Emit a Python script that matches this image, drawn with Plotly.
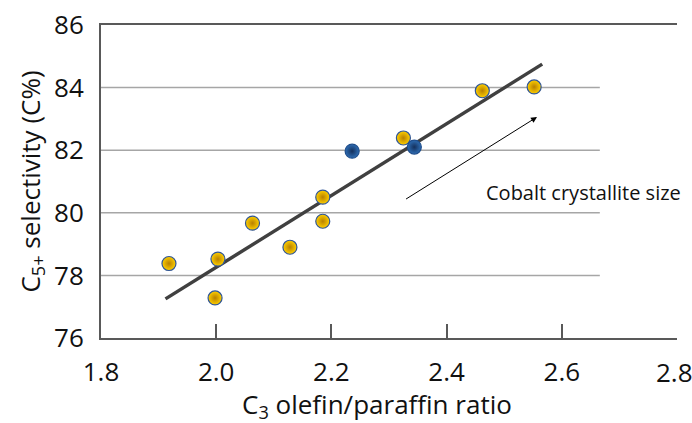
import plotly.graph_objects as go

# Data
ratio_gold = [1.918, 1.998, 2.003, 2.063, 2.128, 2.185, 2.185, 2.325, 2.462, 2.552]
sel_gold = [78.38, 77.28, 78.52, 79.67, 78.90, 79.73, 80.50, 82.39, 83.90, 84.02]
ratio_blue = [2.236, 2.344]
sel_blue = [81.97, 82.10]
trend_x = [1.912, 2.566]
trend_y = [77.25, 84.75]
x_ticks = [1.8, 2.0, 2.2, 2.4, 2.6]
x_ticklabels = ["1.8", "2.0", "2.2", "2.4", "2.6"]
y_ticks = [76, 78, 80, 82, 84, 86]
grid_y = [78, 80, 82, 84]

FONT = "Open Sans"
TXT = "#111111"
fig = go.Figure()

fig.add_trace(go.Scatter(
    x=trend_x, y=trend_y, mode="lines",
    line=dict(color="#404040", width=3.5), hoverinfo="skip", showlegend=False))

fig.add_trace(go.Scatter(
    x=ratio_gold, y=sel_gold, mode="markers", showlegend=False,
    marker=dict(size=14, color="#FFD000",
                gradient=dict(type="radial", color="#B88000"),
                line=dict(color="#2F5597", width=1.2))))

fig.add_trace(go.Scatter(
    x=ratio_blue, y=sel_blue, mode="markers", showlegend=False,
    marker=dict(size=14, color="#2E6DB4",
                gradient=dict(type="radial", color="#14305C"),
                line=dict(color="#1F4E8C", width=1.2))))

shapes = []
for g in grid_y:
    shapes.append(dict(type="line", xref="x", yref="y", x0=1.8, x1=2.666, y0=g, y1=g,
                       line=dict(color="#A6A6A6", width=1.5), layer="below"))

annotations = [
    dict(x=2.557, y=83.06, ax=2.327, ay=80.41, xref="x", yref="y", axref="x", ayref="y",
         showarrow=True, arrowhead=2, arrowsize=1.2, arrowwidth=1, arrowcolor="#000000", text=""),
    dict(x=2.637, y=80.66, xref="x", yref="y", text="Cobalt crystallite size", showarrow=False,
         xanchor="center", yanchor="middle", font=dict(family=FONT, size=20, color=TXT)),
    dict(x=2.795, y=0, xref="x", yref="paper", text="2.8", showarrow=False,
         xanchor="center", yanchor="top", yshift=-14, font=dict(family=FONT, size=26, color=TXT)),
    dict(x=2.28, y=0, xref="x", yref="paper", text="C<sub>3</sub> olefin/paraffin ratio",
         showarrow=False, xanchor="center", yanchor="middle", yshift=-67,
         font=dict(family=FONT, size=26, color=TXT)),
]

fig.update_layout(
    width=692, height=423,
    margin=dict(l=101, r=15, t=25, b=85),
    paper_bgcolor="white", plot_bgcolor="white",
    font=dict(family=FONT, color=TXT),
    shapes=shapes, annotations=annotations,
    xaxis=dict(range=[1.8, 2.8], tickvals=x_ticks, ticktext=x_ticklabels,
               ticks="inside", ticklen=14, tickwidth=1.5, tickcolor="#595959",
               showline=True, linecolor="#595959", linewidth=2, mirror=True,
               showgrid=False, zeroline=False, ticklabelstandoff=10, automargin=False,
               tickfont=dict(family=FONT, size=26, color=TXT)),
    yaxis=dict(range=[76, 86], tickvals=y_ticks, ticks="", showline=True,
               linecolor="#595959", linewidth=2, showgrid=False, zeroline=False,
               ticklabelstandoff=10, automargin=False,
               tickfont=dict(family=FONT, size=26, color=TXT),
               title=dict(text="C<sub>5+</sub> selectivity (C%)", standoff=6,
                          font=dict(family=FONT, size=26, color=TXT))),
)

fig.write_html("out.html")
